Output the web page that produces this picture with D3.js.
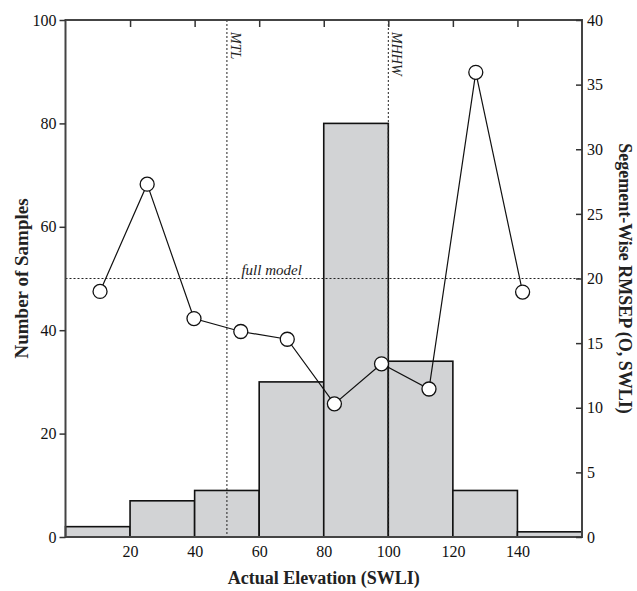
<!DOCTYPE html>
<html><head><meta charset="utf-8">
<script src="https://cdn.jsdelivr.net/npm/d3@7"></script>
<style>body{margin:0;background:#fff}svg{display:block}text{font-family:"Liberation Serif","Times New Roman",serif}</style>
</head><body>
<svg id="c" width="637" height="591"></svg>
<script>
const binStarts = [0, 20, 40, 60, 80, 100, 120, 140];
const binWidth = 20;
const counts = [2, 7, 9, 30, 80, 34, 9, 1];
const rmsepX = [10.7, 25.3, 39.8, 54.3, 68.7, 83.3, 97.9, 112.6, 127.1, 141.6];
const rmsepY = [19.0, 27.3, 16.9, 15.9, 15.3, 10.3, 13.4, 11.45, 35.95, 18.95];
const fullModel = 20;
const refLines = [{x: 50, label: "MTL"}, {x: 100, label: "MHHW"}];
const xTicks = [20, 40, 60, 80, 100, 120, 140];
const yLeftTicks = [0, 20, 40, 60, 80, 100];
const yRightTicks = [0, 5, 10, 15, 20, 25, 30, 35, 40];

const L = 65.5, R = 582, T = 20, B = 537;
const svg = d3.select("#c");
const x = d3.scaleLinear().domain([0, 160]).range([L, R]);
const yL = d3.scaleLinear().domain([0, 100]).range([B, T]);
const yR = d3.scaleLinear().domain([0, 40]).range([B, T]);

// bars
svg.append("g").selectAll("rect").data(binStarts).join("rect")
  .attr("x", (d) => x(d)).attr("width", (d) => x(d + binWidth) - x(d))
  .attr("y", (d, i) => yL(counts[i])).attr("height", (d, i) => yL(0) - yL(counts[i]))
  .attr("fill", "#d2d3d5").attr("stroke", "#111").attr("stroke-width", 1.6);

// reference lines
svg.append("line").attr("x1", L).attr("x2", R).attr("y1", yR(fullModel)).attr("y2", yR(fullModel))
  .attr("stroke", "#222").attr("stroke-width", 1).attr("stroke-dasharray", "2,2");
svg.append("text").attr("x", x(54.5)).attr("y", yR(fullModel) - 4)
  .attr("font-style", "italic").attr("font-size", 15).attr("fill", "#222").text("full model");
refLines.forEach(r => {
  svg.append("line").attr("x1", x(r.x)).attr("x2", x(r.x)).attr("y1", T).attr("y2", B)
    .attr("stroke", "#222").attr("stroke-width", 1).attr("stroke-dasharray", "2,2");
  svg.append("text").attr("transform", `translate(${x(r.x) + 4},${T + 12}) rotate(90)`)
    .attr("font-style", "italic").attr("font-size", 14).attr("fill", "#222").text(r.label);
});

// line + points
const pts = rmsepX.map((d, i) => [d, rmsepY[i]]);
svg.append("path").datum(pts)
  .attr("d", d3.line().x(d => x(d[0])).y(d => yR(d[1])))
  .attr("fill", "none").attr("stroke", "#111").attr("stroke-width", 1.2);
svg.append("g").selectAll("circle").data(pts).join("circle")
  .attr("cx", d => x(d[0])).attr("cy", d => yR(d[1])).attr("r", 7)
  .attr("fill", "#fff").attr("stroke", "#111").attr("stroke-width", 1.3);

// frame
svg.append("rect").attr("x", L).attr("y", T).attr("width", R - L).attr("height", B - T)
  .attr("fill", "none").attr("stroke", "#444").attr("stroke-width", 2);

function styleAxis(g) {
  g.select(".domain").remove();
  g.selectAll("line").attr("stroke", "#333").attr("stroke-width", 1.5);
  g.selectAll("text").attr("font-family", "Liberation Serif, serif").attr("font-size", 16).attr("fill", "#111");
}
svg.append("g").attr("transform", `translate(${L},0)`)
  .call(d3.axisLeft(yL).tickValues(yLeftTicks).tickSize(6).tickPadding(3))
  .call(styleAxis);
svg.append("g").attr("transform", `translate(${R},0)`)
  .call(d3.axisRight(yR).tickValues(yRightTicks).tickSizeInner(-6).tickSizeOuter(0).tickPadding(5))
  .call(styleAxis)
  .call(g => g.selectAll(".tick text").attr("x", 5));
svg.append("g").attr("transform", `translate(0,${B})`)
  .call(d3.axisBottom(x).tickValues(xTicks).tickSize(0).tickPadding(9))
  .call(styleAxis);
svg.append("g").attr("transform", `translate(0,${T})`)
  .call(d3.axisTop(x).tickValues(xTicks).tickSizeInner(-7).tickFormat(""))
  .call(styleAxis);

// titles
svg.append("text").attr("x", (L + R) / 2).attr("y", 584).attr("text-anchor", "middle")
  .attr("font-weight", "bold").attr("font-size", 18).attr("fill", "#222").text("Actual Elevation (SWLI)");
svg.append("text").attr("transform", `translate(28,${(T + B) / 2}) rotate(-90)`).attr("text-anchor", "middle")
  .attr("font-weight", "bold").attr("font-size", 19).attr("fill", "#222").text("Number of Samples");
svg.append("text").attr("transform", `translate(619,${(T + B) / 2}) rotate(90)`).attr("text-anchor", "middle")
  .attr("font-weight", "bold").attr("font-size", 18).attr("fill", "#222").text("Segement-Wise RMSEP (O, SWLI)");
</script>
</body></html>
